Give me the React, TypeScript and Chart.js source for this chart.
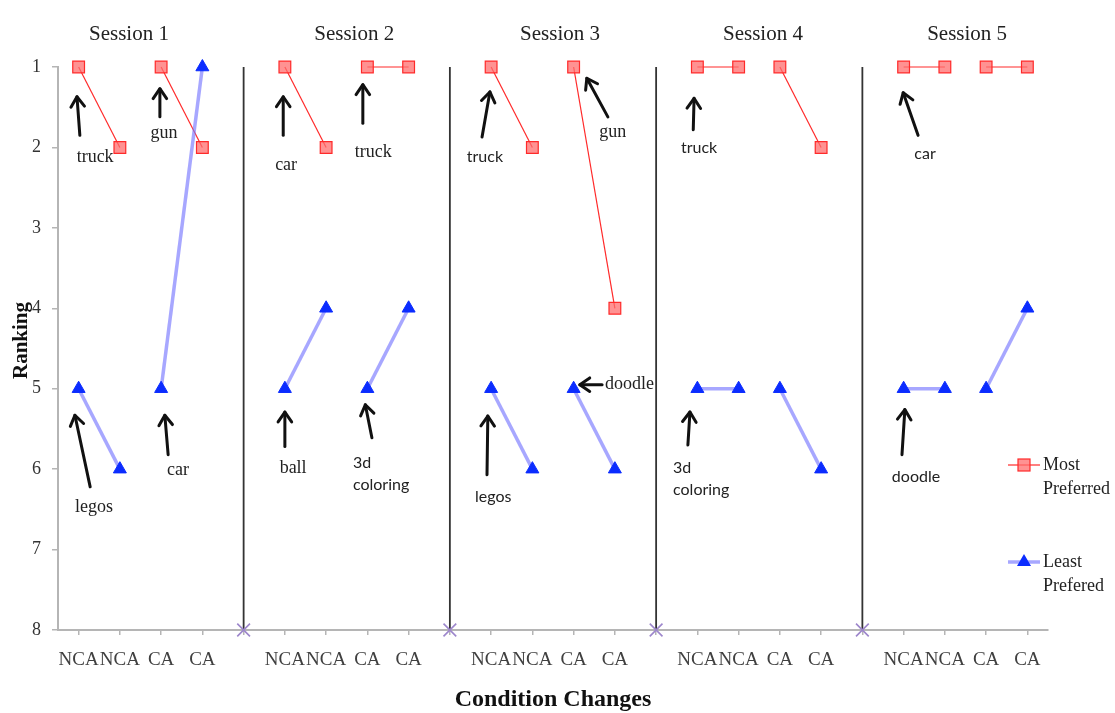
import React, { useEffect, useRef } from "react";
import { Chart, registerables } from "chart.js";

Chart.register(...registerables);

const categories = [
  "NCA", "NCA", "CA", "CA", "",
  "NCA", "NCA", "CA", "CA", "",
  "NCA", "NCA", "CA", "CA", "",
  "NCA", "NCA", "CA", "CA", "",
  "NCA", "NCA", "CA", "CA",
];

const mostPreferred = [
  1, 2, 1, 2, null,
  1, 2, 1, 1, null,
  1, 2, 1, 4, null,
  1, 1, 1, 2, null,
  1, 1, 1, 1,
];

const leastPreferred = [
  5, 6, 5, 1, null,
  5, 4, 5, 4, null,
  5, 6, 5, 6, null,
  5, 5, 5, 6, null,
  5, 5, 5, 4,
];

const separatorIndex = [4, 9, 14, 19];
const separatorMarks = categories.map((_, i) => (separatorIndex.includes(i) ? 8 : null));

// index of first point of each connected pair
const pairStarts = [0, 2, 5, 7, 10, 12, 15, 17, 20, 22];

const sessionTitles = ["Session 1", "Session 2", "Session 3", "Session 4", "Session 5"];
const sessionTitleX = [1.22, 6.68, 11.67, 16.59, 21.54];
const sessionTitleY = 0.6;

const yTicks = [1, 2, 3, 4, 5, 6, 7, 8];

// annotation labels in data units (category index, ranking)
const annotations = [
  { text: ["truck"], sans: false, tx: 0.4, ty: 2.12, align: "center", ax: 0.03, ay: 1.85, hx: -0.04, hy: 1.37 },
  { text: ["gun"], sans: false, tx: 2.07, ty: 1.82, align: "center", ax: 1.97, ay: 1.62, hx: 1.97, hy: 1.27 },
  { text: ["legos"], sans: false, tx: 0.37, ty: 6.47, align: "center", ax: 0.28, ay: 6.22, hx: -0.09, hy: 5.33 },
  { text: ["car"], sans: false, tx: 2.41, ty: 6.01, align: "center", ax: 2.17, ay: 5.82, hx: 2.09, hy: 5.33 },
  { text: ["car"], sans: false, tx: 5.03, ty: 2.22, align: "center", ax: 4.96, ay: 1.85, hx: 4.96, hy: 1.37 },
  { text: ["truck"], sans: false, tx: 7.14, ty: 2.06, align: "center", ax: 6.89, ay: 1.7, hx: 6.89, hy: 1.22 },
  { text: ["ball"], sans: false, tx: 5.2, ty: 5.99, align: "center", ax: 5.0, ay: 5.72, hx: 5.0, hy: 5.29 },
  { text: ["3d", "coloring"], sans: true, tx: 6.65, ty: 5.92, align: "left", ax: 7.11, ay: 5.61, hx: 6.95, hy: 5.2 },
  { text: ["truck"], sans: true, tx: 9.85, ty: 2.12, align: "center", ax: 9.78, ay: 1.87, hx: 9.97, hy: 1.31 },
  { text: ["gun"], sans: false, tx: 12.95, ty: 1.81, align: "center", ax: 12.83, ay: 1.62, hx: 12.32, hy: 1.14 },
  { text: ["legos"], sans: true, tx: 10.05, ty: 6.35, align: "center", ax: 9.9, ay: 6.07, hx: 9.92, hy: 5.34 },
  { text: ["doodle"], sans: false, tx: 12.76, ty: 4.95, align: "left", ax: 12.69, ay: 4.95, hx: 12.15, hy: 4.95 },
  { text: ["truck"], sans: true, tx: 15.04, ty: 2.0, align: "center", ax: 14.9, ay: 1.78, hx: 14.92, hy: 1.39 },
  { text: ["3d", "coloring"], sans: true, tx: 14.41, ty: 5.99, align: "left", ax: 14.77, ay: 5.7, hx: 14.82, hy: 5.29 },
  { text: ["car"], sans: true, tx: 20.52, ty: 2.08, align: "center", ax: 20.35, ay: 1.85, hx: 19.99, hy: 1.32 },
  { text: ["doodle"], sans: true, tx: 20.3, ty: 6.1, align: "center", ax: 19.96, ay: 5.82, hx: 20.03, hy: 5.26 },
];

const RED = "#ff2a2a";
const RED_FILL = "rgba(255,110,110,0.75)";
const BLUE_LINE = "rgba(120,120,255,0.65)";
const BLUE = "#0b2cff";
const PURPLE = "#9d86cc";
const SERIF = "'Liberation Serif', 'Times New Roman', serif";
const SANS = "Lato, 'Liberation Sans', sans-serif";

function drawArrow(ctx, x1, y1, x2, y2) {
  ctx.save();
  ctx.strokeStyle = "#111";
  ctx.lineWidth = 3;
  ctx.lineCap = "round";
  ctx.lineJoin = "round";
  ctx.beginPath();
  ctx.moveTo(x1, y1);
  ctx.lineTo(x2, y2);
  ctx.stroke();
  const ang = Math.atan2(y2 - y1, x2 - x1);
  const len = 12;
  ctx.beginPath();
  ctx.moveTo(x2 - len * Math.cos(ang - 0.6), y2 - len * Math.sin(ang - 0.6));
  ctx.lineTo(x2, y2);
  ctx.lineTo(x2 - len * Math.cos(ang + 0.6), y2 - len * Math.sin(ang + 0.6));
  ctx.stroke();
  ctx.restore();
}

const decorPlugin = {
  id: "decor",
  beforeDatasetsDraw(chart) {
    const { ctx, scales } = chart;
    const x = scales.x;
    const y = scales.y;
    ctx.save();
    ctx.strokeStyle = "#333";
    ctx.lineWidth = 1.8;
    separatorIndex.forEach((i) => {
      const px = x.getPixelForValue(i);
      ctx.beginPath();
      ctx.moveTo(px, y.getPixelForValue(1));
      ctx.lineTo(px, y.getPixelForValue(8));
      ctx.stroke();
    });
    ctx.restore();
  },
  afterDraw(chart) {
    const { ctx, scales } = chart;
    const x = scales.x;
    const y = scales.y;
    const x0 = x.getPixelForValue(0);
    const step = x.getPixelForValue(1) - x0;
    const xp = (v) => x0 + v * step;
    const yp = (v) => y.getPixelForValue(v);

    ctx.save();
    // session titles
    ctx.fillStyle = "#222";
    ctx.font = `21px ${SERIF}`;
    ctx.textAlign = "center";
    ctx.textBaseline = "middle";
    sessionTitles.forEach((t, i) => {
      ctx.fillText(t, xp(sessionTitleX[i]), yp(sessionTitleY));
    });

    // annotations
    annotations.forEach((a) => {
      drawArrow(ctx, xp(a.ax), yp(a.ay), xp(a.hx), yp(a.hy));
      ctx.font = a.sans ? `16px ${SANS}` : `18px ${SERIF}`;
      ctx.fillStyle = "#222";
      ctx.textAlign = a.align;
      ctx.textBaseline = "middle";
      a.text.forEach((line, li) => {
        ctx.fillText(line, xp(a.tx), yp(a.ty) + li * 22);
      });
    });

    // legend
    const legendX = chart.chartArea.right - 40;
    const items = [
      { y: 465, lines: ["Most", "Preferred"], kind: "red" },
      { y: 562, lines: ["Least", "Prefered"], kind: "blue" },
    ];
    items.forEach((it) => {
      ctx.save();
      if (it.kind === "red") {
        ctx.strokeStyle = RED;
        ctx.lineWidth = 1.2;
        ctx.beginPath();
        ctx.moveTo(legendX, it.y);
        ctx.lineTo(legendX + 32, it.y);
        ctx.stroke();
        ctx.fillStyle = RED_FILL;
        ctx.fillRect(legendX + 10, it.y - 6, 12, 12);
        ctx.strokeStyle = RED;
        ctx.strokeRect(legendX + 10, it.y - 6, 12, 12);
      } else {
        ctx.strokeStyle = BLUE_LINE;
        ctx.lineWidth = 3.5;
        ctx.beginPath();
        ctx.moveTo(legendX, it.y);
        ctx.lineTo(legendX + 32, it.y);
        ctx.stroke();
        ctx.fillStyle = BLUE;
        ctx.beginPath();
        ctx.moveTo(legendX + 16, it.y - 8);
        ctx.lineTo(legendX + 23, it.y + 4);
        ctx.lineTo(legendX + 9, it.y + 4);
        ctx.closePath();
        ctx.fill();
      }
      ctx.restore();
      ctx.fillStyle = "#222";
      ctx.font = `18px ${SERIF}`;
      ctx.textAlign = "left";
      ctx.textBaseline = "middle";
      it.lines.forEach((l, li) => ctx.fillText(l, legendX + 35, it.y + li * 24));
    });

    // axis titles
    ctx.fillStyle = "#111";
    ctx.font = `bold 24px ${SERIF}`;
    ctx.textAlign = "center";
    ctx.textBaseline = "middle";
    ctx.fillText("Condition Changes", (chart.chartArea.left + chart.chartArea.right) / 2, 700);
    ctx.save();
    ctx.translate(22, (chart.chartArea.top + chart.chartArea.bottom) / 2 - 8);
    ctx.rotate(-Math.PI / 2);
    ctx.font = `bold 21px ${SERIF}`;
    ctx.fillText("Ranking", 0, 0);
    ctx.restore();
    ctx.restore();
  },
};

export default function App() {
  const canvasRef = useRef(null);

  useEffect(() => {
    const chart = new Chart(canvasRef.current, {
      type: "line",
      data: {
        labels: categories,
        datasets: [
          {
            label: "Least Prefered",
            data: leastPreferred,
            borderColor: BLUE_LINE,
            borderWidth: 3.5,
            pointStyle: "triangle",
            pointRadius: 7.5,
            pointBackgroundColor: BLUE,
            pointBorderColor: BLUE,
            pointBorderWidth: 1,
            clip: false,
            segment: {
              borderColor: (c) => (pairStarts.includes(c.p0DataIndex) ? BLUE_LINE : "transparent"),
            },
          },
          {
            label: "Most Preferred",
            data: mostPreferred,
            borderColor: RED,
            borderWidth: 1.2,
            pointStyle: "rect",
            pointRadius: 8.3,
            pointBackgroundColor: RED_FILL,
            pointBorderColor: RED,
            pointBorderWidth: 1.2,
            clip: false,
            segment: {
              borderColor: (c) => (pairStarts.includes(c.p0DataIndex) ? RED : "transparent"),
            },
          },
          {
            label: "sep",
            data: separatorMarks,
            showLine: false,
            pointStyle: "crossRot",
            pointRadius: 9,
            pointBorderColor: PURPLE,
            pointBorderWidth: 1.6,
            clip: false,
          },
        ],
      },
      options: {
        animation: false,
        responsive: false,
        maintainAspectRatio: false,
        events: [],
        layout: { padding: { top: 67, right: 67, left: 0, bottom: 0 } },
        plugins: { legend: { display: false }, tooltip: { enabled: false }, title: { display: false } },
        scales: {
          x: {
            type: "category",
            offset: true,
            grid: { drawOnChartArea: false, offset: false, tickLength: 5, color: "#b5b5b5", lineWidth: 1.5 },
            border: { color: "#b5b5b5", width: 2 },
            ticks: {
              font: { family: SERIF, size: 19 },
              color: "#404040",
              maxRotation: 0,
              autoSkip: false,
              padding: 14,
            },
            afterFit: (s) => {
              s.height = 83;
            },
          },
          y: {
            type: "linear",
            reverse: true,
            min: 1,
            max: 8,
            afterBuildTicks: (s) => {
              s.ticks = yTicks.map((v) => ({ value: v }));
            },
            grid: { drawOnChartArea: false, tickLength: 6, color: "#b5b5b5", lineWidth: 1.5 },
            border: { color: "#b5b5b5", width: 2 },
            ticks: { font: { family: SERIF, size: 18 }, color: "#333", padding: 11 },
            afterFit: (s) => {
              s.width = 58;
            },
          },
        },
      },
      plugins: [decorPlugin],
    });
    return () => chart.destroy();
  }, []);

  return (
    <div style={{ position: "fixed", left: 0, top: 0, width: 1115, height: 713, background: "#fff" }}>
      <canvas ref={canvasRef} width={1115} height={713} />
    </div>
  );
}
